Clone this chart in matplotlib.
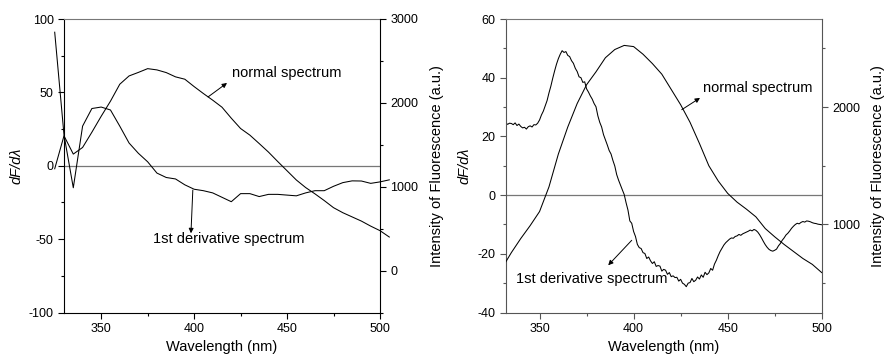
import matplotlib
matplotlib.use('Agg')
import matplotlib.pyplot as plt
from matplotlib.ticker import MultipleLocator

plt.rcParams['font.family'] = ['Liberation Sans', 'DejaVu Sans']
plt.rcParams['axes.unicode_minus'] = False

# left panel, sampled every 5 nm (325 .. 505)
left_nm = list(range(325, 510, 5))
left_deriv = [91, 21, -15, 27, 39, 40, 38, 27, 15.5, 8.5, 2.7, -5, -8, -9, -13,
              -16, -17, -18.5, -21.5, -24.5, -19, -19, -21, -19.5, -19.5, -20,
              -20.5, -18.5, -17, -17, -14, -11.5, -10.3, -10.4, -12, -11, -9.6]
left_normal = [1214, 1607, 1389, 1468, 1650, 1840, 2020, 2222, 2321, 2363, 2408,
               2393, 2361, 2310, 2282, 2194, 2111, 2032, 1948, 1817, 1694, 1615,
               1515, 1413, 1300, 1190, 1080, 990, 915, 835, 750, 690, 640, 590,
               530, 476, 400]

# right panel, derivative every 1 nm (332 .. 500)
right_deriv_nm = list(range(332, 501))
right_deriv = [
    24.6, 24.1, 24.5, 24.4, 24.0, 24.6, 23.7, 24.2, 23.4, 22.9,   # 332-341
    23.1, 22.5, 23.3, 23.6, 23.2, 24.0, 23.9, 24.5, 25.6, 27.3,   # 342-351
    28.6, 30.4, 32.2, 34.8, 37.1, 39.8, 42.3, 44.6, 46.5, 48.0,   # 352-361
    49.2, 48.6, 48.9, 47.6, 47.2, 45.8, 44.9, 43.2, 42.1, 40.3,   # 362-371
    40.0, 38.4, 38.6, 36.2, 35.1, 33.8, 32.7, 31.2, 30.1, 27.0,   # 372-381
    24.8, 23.2, 20.6, 18.9, 17.1, 15.2, 14.0, 11.8, 9.9, 7.0,     # 382-391
    5.1, 3.4, 1.8, 0.2, -2.6, -5.1, -8.8, -9.6, -12.4, -14.1,     # 392-401
    -16.8, -17.9, -18.2, -19.6, -19.9, -21.6, -21.1, -22.4, -23.3, -22.7,  # 402-411
    -24.3, -24.0, -24.2, -25.9, -25.3, -25.6, -27.0, -26.4, -27.8, -27.5,  # 412-421
    -28.1, -28.0, -29.3, -28.7, -30.0, -30.4, -31.2, -30.0, -29.8, -28.4,  # 422-431
    -29.5, -29.0, -27.9, -28.6, -27.2, -28.0, -26.3, -27.1, -26.5, -25.0,  # 432-441
    -25.6, -23.5, -22.2, -20.6, -19.2, -18.1, -17.0, -16.2, -15.6, -15.0,  # 442-451
    -14.6, -14.7, -14.1, -13.9, -13.4, -13.7, -13.2, -12.9, -12.6, -12.3,  # 452-461
    -11.9, -12.2, -11.7, -12.0, -12.6, -13.5, -14.6, -15.8, -16.9, -17.8,  # 462-471
    -18.5, -18.9, -19.1, -18.8, -18.4, -17.3, -16.5, -15.4, -14.6, -13.6,  # 472-481
    -13.0, -12.2, -11.3, -10.6, -10.0, -9.6, -9.8, -9.3, -9.0, -9.2,       # 482-491
    -8.8, -8.9, -9.1, -9.4, -9.6, -9.7, -9.9, -10.0, -10.1,                # 492-500
]

# right panel, normal spectrum
right_normal_nm = [332, 335, 340, 345, 350, 355, 360, 365, 370, 375, 380, 385,
                   390, 395, 400, 405, 410, 415, 420, 425, 430, 435, 440, 445,
                   450, 455, 460, 465, 470, 475, 480, 485, 490, 495, 500]
right_normal = [680, 760, 880, 990, 1110, 1320, 1600, 1830, 2030, 2190, 2300,
                2420, 2490, 2525, 2515, 2450, 2370, 2280, 2150, 2020, 1870, 1690,
                1500, 1370, 1265, 1190, 1130, 1065, 965, 895, 830, 770, 710, 660,
                590]

GREY = '#777777'
LW = 0.75


def setup(ax, xlim, ylim, ymaj, ymin, ylim2, spine_col):
    ax.set_xlim(*xlim)
    ax.set_ylim(*ylim)
    ax.xaxis.set_major_locator(MultipleLocator(50))
    ax.xaxis.set_minor_locator(MultipleLocator(25))
    ax.yaxis.set_major_locator(MultipleLocator(ymaj))
    ax.yaxis.set_minor_locator(MultipleLocator(ymin))
    ax.tick_params(which='both', direction='out', width=0.8, labelsize=9,
                   top=False, right=False, color=spine_col)
    ax.tick_params(which='major', length=4)
    ax.tick_params(which='minor', length=2.5)
    ax.spines['top'].set_color(GREY)
    ax.spines['right'].set_visible(False)
    for s in ('left', 'bottom'):
        ax.spines[s].set_color(spine_col)
        ax.spines[s].set_linewidth(0.8)
    ax.axhline(0, color=GREY, lw=0.9)
    ax.set_xlabel('Wavelength (nm)', fontsize=10.5)
    ax.set_ylabel('dF/dλ', fontsize=10.5, style='italic', labelpad=4)

    ax2 = ax.twinx()
    ax2.set_ylim(*ylim2)
    ax2.yaxis.set_major_locator(MultipleLocator(1000))
    ax2.yaxis.set_minor_locator(MultipleLocator(500))
    ax2.tick_params(which='both', direction='out', width=0.8, labelsize=9,
                    color=spine_col)
    ax2.tick_params(which='major', length=4)
    ax2.tick_params(which='minor', length=2.5)
    for s in ('left', 'top', 'bottom'):
        ax2.spines[s].set_visible(False)
    ax2.spines['right'].set_color(spine_col)
    ax2.spines['right'].set_linewidth(0.8)
    ax2.set_ylabel('Intensity of Fluorescence (a.u.)', fontsize=10.5, labelpad=8)
    return ax2


fig = plt.figure(figsize=(8.86, 3.6), dpi=100)
bottom = 1 - 312.5 / 360
height = 293.5 / 360

axL = fig.add_axes([64 / 886, bottom, 316 / 886, height])
axL2 = setup(axL, (330, 500), (-100, 100), 50, 25, (-500, 3000), 'black')
axL.plot(left_nm, left_deriv, color='k', lw=LW, clip_on=False)
axL2.plot(left_nm, left_normal, color='k', lw=LW, clip_on=False)

arrow = dict(arrowstyle='-|>', color='k', lw=0.7, mutation_scale=7,
             shrinkA=0, shrinkB=0)
axL.annotate('', xy=(417.7, 56.4), xytext=(407.5, 46.9), arrowprops=arrow)
axL.text(420.5, 63, 'normal spectrum', fontsize=10.5, ha='left', va='center')
axL.annotate('', xy=(398.3, -46), xytext=(399.3, -16.6), arrowprops=arrow)
axL.text(378, -50, '1st derivative spectrum', fontsize=10.5, ha='left',
         va='center')

axR = fig.add_axes([505.7 / 886, bottom, 316 / 886, height])
axR2 = setup(axR, (332, 500), (-40, 60), 20, 10, (250, 2750), '#555555')
axR.plot(right_deriv_nm, right_deriv, color='k', lw=LW)
axR2.plot(right_normal_nm, right_normal, color='k', lw=LW)

axR.annotate('', xy=(435.3, 33.1), xytext=(425.6, 29.1), arrowprops=arrow)
axR.text(437, 36.5, 'normal spectrum', fontsize=10.5, ha='left', va='center')
axR.annotate('', xy=(386.5, -23.9), xytext=(399, -15.4), arrowprops=arrow)
axR.text(337.5, -28.7, '1st derivative spectrum', fontsize=10.5, ha='left',
         va='center')

fig.savefig('out.png', dpi=100)
